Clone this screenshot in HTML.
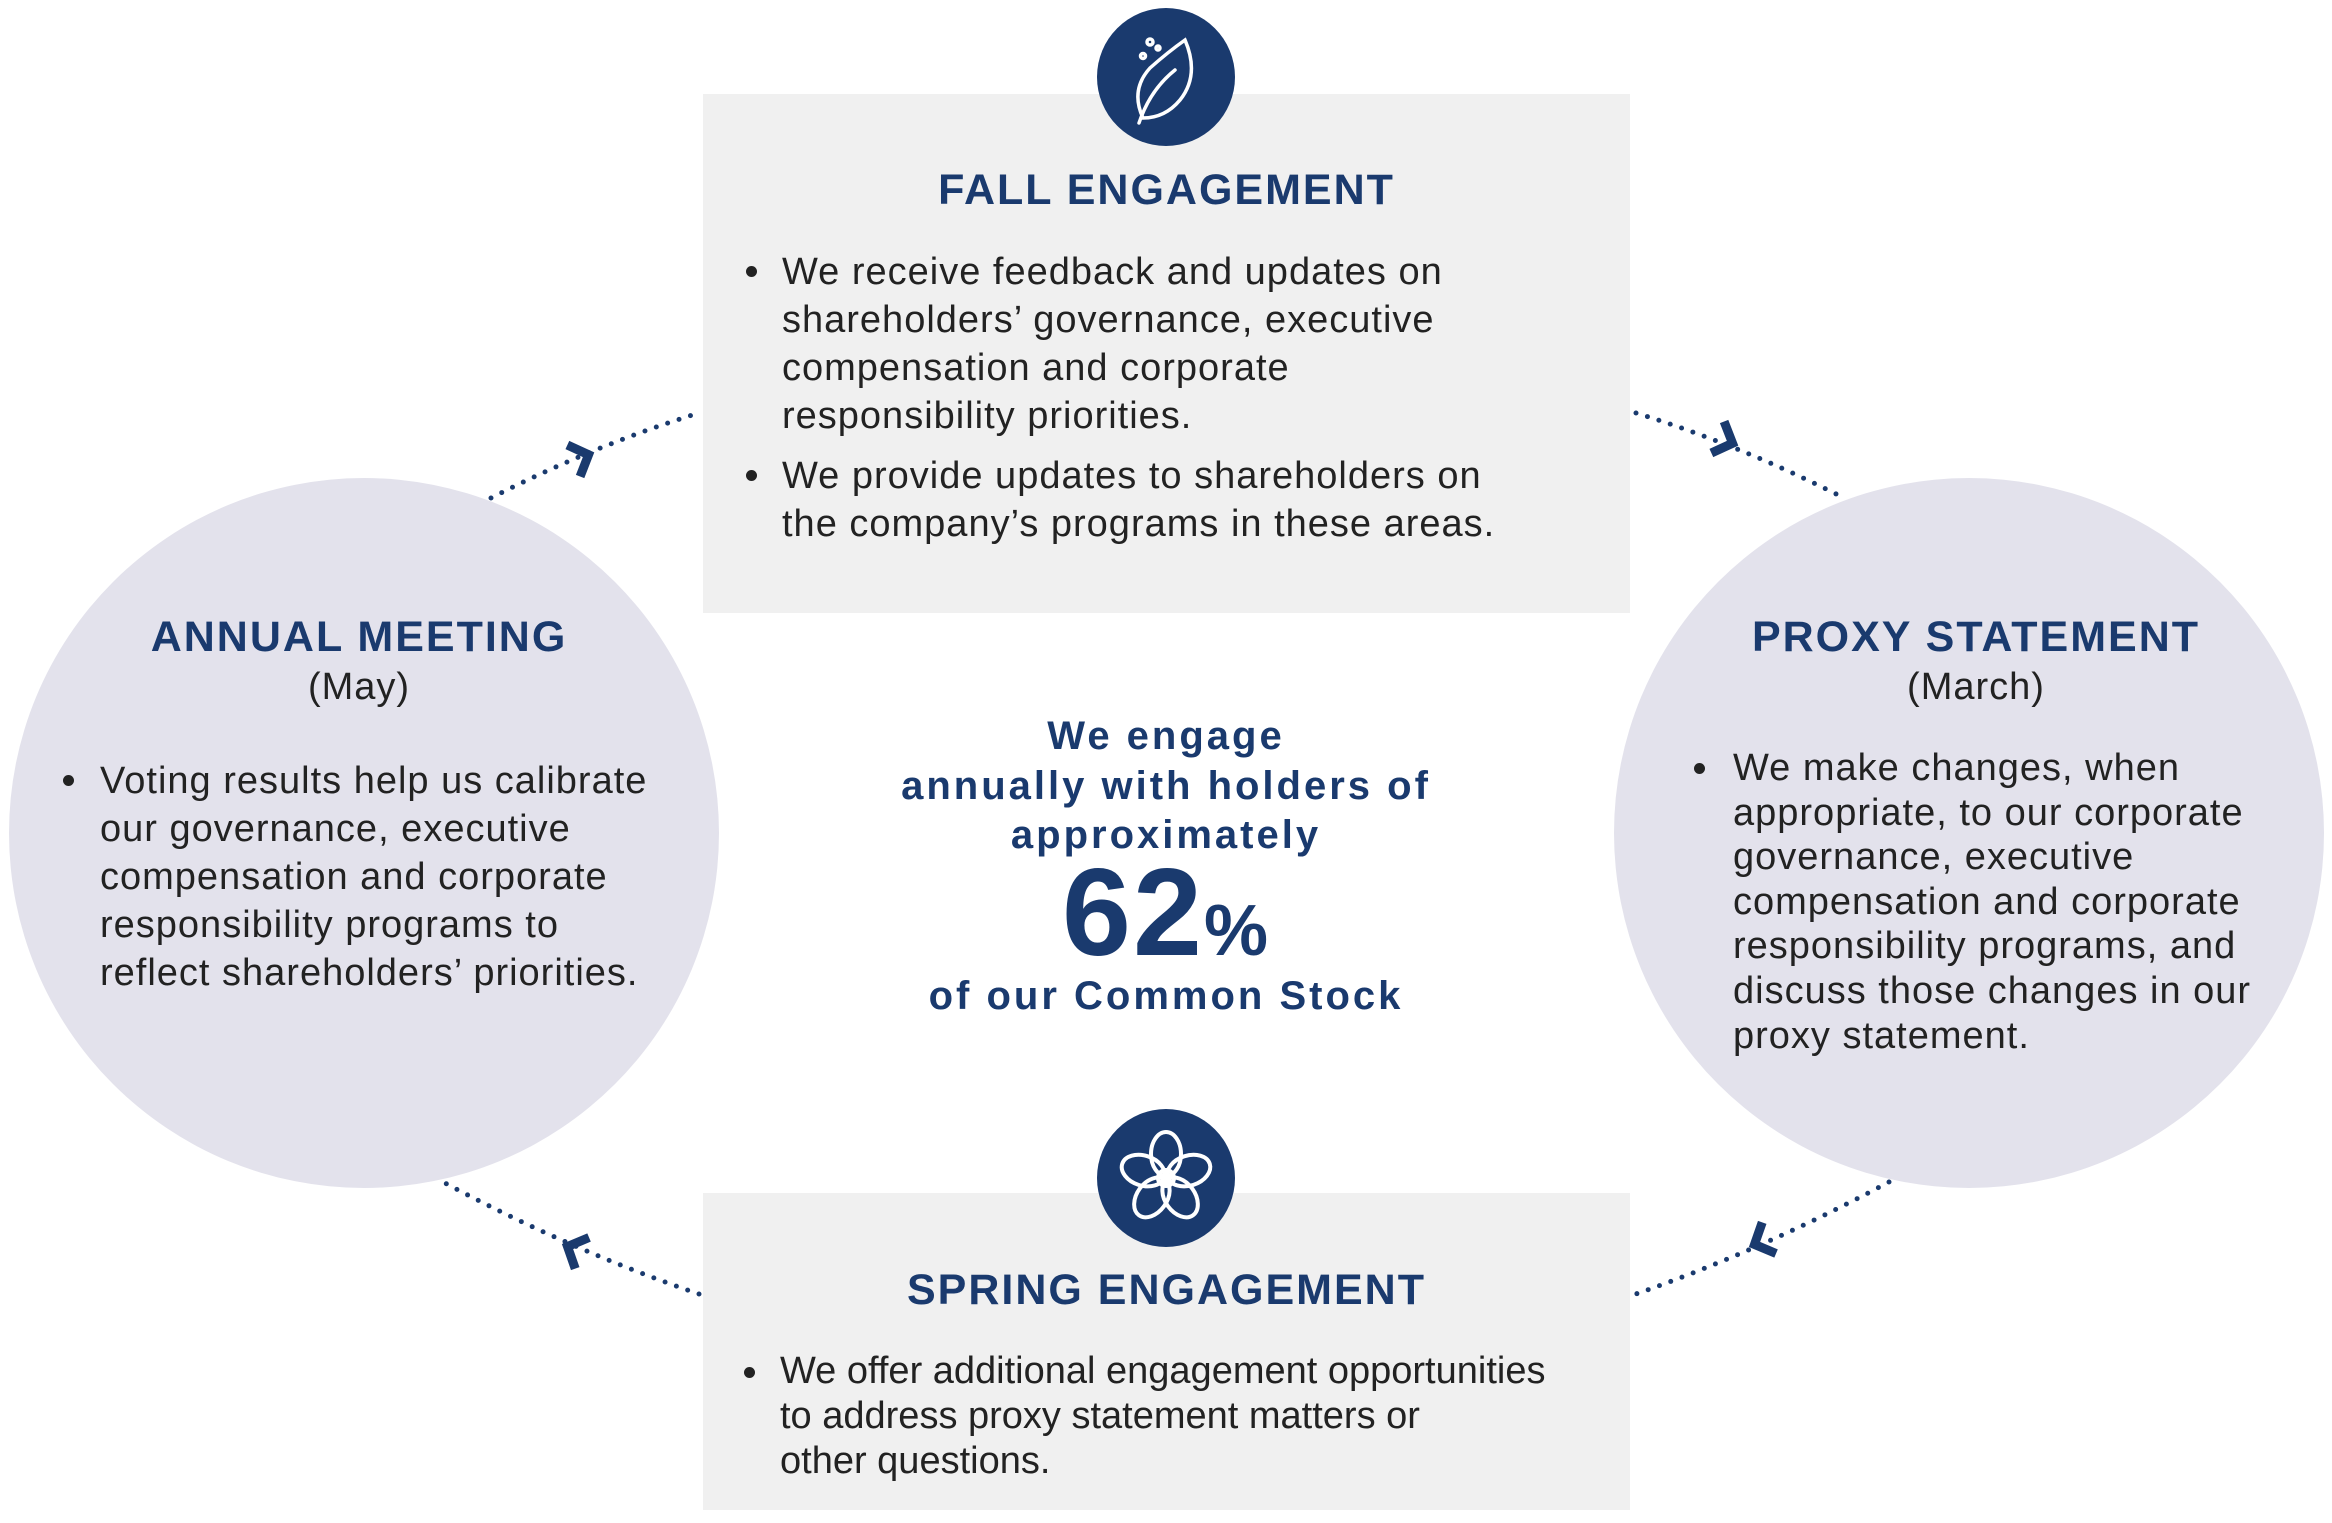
<!DOCTYPE html>
<html><head><meta charset="utf-8">
<style>
html,body{margin:0;padding:0;background:#fff;}
body{width:2332px;height:1523px;position:relative;overflow:hidden;font-family:"Liberation Sans",sans-serif;}
.abs{position:absolute;}
.title{color:#1a3a6e;font-weight:bold;font-size:43px;letter-spacing:2px;text-align:center;white-space:nowrap;}
.body{color:#222;font-size:38px;line-height:48px;white-space:nowrap;letter-spacing:1px;}
.bul{position:absolute;width:11px;height:11px;border-radius:50%;background:#222;}
.center{color:#1a3a6e;font-weight:bold;font-size:40px;letter-spacing:3px;text-align:center;white-space:nowrap;left:816px;width:700px;}
</style></head><body>
<svg class="abs" style="left:0;top:0" width="2332" height="1523" viewBox="0 0 2332 1523">
<rect x="703" y="94" width="927" height="519" fill="#f0f0f0"/>
<rect x="703" y="1193" width="927" height="317" fill="#f0f0f0"/>
<circle cx="364" cy="833" r="355" fill="#e3e2ec"/>
<circle cx="1969" cy="833" r="355" fill="#e3e2ec"/>
<g fill="none" stroke="#1a3a6e" stroke-width="5" stroke-linecap="round" stroke-dasharray="0 12">
<path d="M491 498 Q595 445 699 413"/>
<path d="M1636 413 Q1740 445 1844 498"/>
<path d="M1889 1182 Q1762 1250 1636 1294"/>
<path d="M699 1294 Q570 1250 443 1182"/>
</g>
<g fill="none" stroke="#1a3a6e" stroke-width="9" stroke-linejoin="miter">
<polyline points="-10,-17 6,0 -10,17" transform="translate(583,457) rotate(-22)"/>
<polyline points="-10,-17 6,0 -10,17" transform="translate(1727,441) rotate(22)"/>
<polyline points="-10,-17 6,0 -10,17" transform="translate(1760,1242) rotate(156)"/>
<polyline points="-10,-17 6,0 -10,17" transform="translate(573,1249) rotate(204)"/>
</g>
<circle cx="1166" cy="77" r="69" fill="#1a3a6e"/>
<circle cx="1166" cy="1178" r="69" fill="#1a3a6e"/>
<g fill="none" stroke="#fff" stroke-width="3.5" stroke-linecap="round">
<path d="M1139 123 Q1150 90 1175 70"/>
<path d="M1143 118 Q1130 90 1150 68 Q1168 52 1185 40 Q1200 75 1180 100 Q1165 118 1143 118 Z"/>
<circle cx="1150" cy="42" r="3"/>
<circle cx="1143" cy="56" r="2.5"/>
<circle cx="1158" cy="48" r="2"/>
</g>
<g fill="none" stroke="#fff" stroke-width="4" transform="translate(1166,1178)">
<ellipse cx="0" cy="-24" rx="15" ry="22"/>
<ellipse cx="0" cy="-24" rx="15" ry="22" transform="rotate(72)"/>
<ellipse cx="0" cy="-24" rx="15" ry="22" transform="rotate(144)"/>
<ellipse cx="0" cy="-24" rx="15" ry="22" transform="rotate(216)"/>
<ellipse cx="0" cy="-24" rx="15" ry="22" transform="rotate(288)"/>
<circle cx="0" cy="0" r="8"/>
</g>
</svg>

<div class="abs title" style="left:703px;width:927px;top:166px;">FALL ENGAGEMENT</div>
<div class="bul" style="left:746px;top:266px"></div>
<div class="abs body" style="left:782px;top:248px;">We receive feedback and updates on<br>shareholders’ governance, executive<br>compensation and corporate<br>responsibility priorities.</div>
<div class="bul" style="left:746px;top:470px"></div>
<div class="abs body" style="left:782px;top:452px;">We provide updates to shareholders on<br>the company’s programs in these areas.</div>

<div class="abs title" style="left:703px;width:927px;top:1266px;">SPRING ENGAGEMENT</div>
<div class="bul" style="left:744px;top:1367px"></div>
<div class="abs body" style="left:780px;top:1349px;line-height:45px;letter-spacing:0;">We offer additional engagement opportunities<br>to address proxy statement matters or<br>other questions.</div>

<div class="abs title" style="left:4px;width:710px;top:613px;">ANNUAL MEETING</div>
<div class="abs body" style="left:4px;width:710px;top:663px;text-align:center;">(May)</div>
<div class="bul" style="left:63px;top:775px"></div>
<div class="abs body" style="left:100px;top:757px;">Voting results help us calibrate<br>our governance, executive<br>compensation and corporate<br>responsibility programs to<br>reflect shareholders’ priorities.</div>

<div class="abs title" style="left:1621px;width:710px;top:613px;">PROXY STATEMENT</div>
<div class="abs body" style="left:1621px;width:710px;top:663px;text-align:center;">(March)</div>
<div class="bul" style="left:1694px;top:763px"></div>
<div class="abs body" style="left:1733px;top:746px;line-height:44.6px;">We make changes, when<br>appropriate, to our corporate<br>governance, executive<br>compensation and corporate<br>responsibility programs, and<br>discuss those changes in our<br>proxy statement.</div>

<div class="abs center" style="top:714px;">We engage</div>
<div class="abs center" style="top:764px;">annually with holders of</div>
<div class="abs center" style="top:813px;">approximately</div>
<div class="abs center" style="top:848px;font-size:124px;line-height:130px;letter-spacing:2px;">62<span style="font-size:72px">%</span></div>
<div class="abs center" style="top:974px;">of our Common Stock</div>
</body></html>
